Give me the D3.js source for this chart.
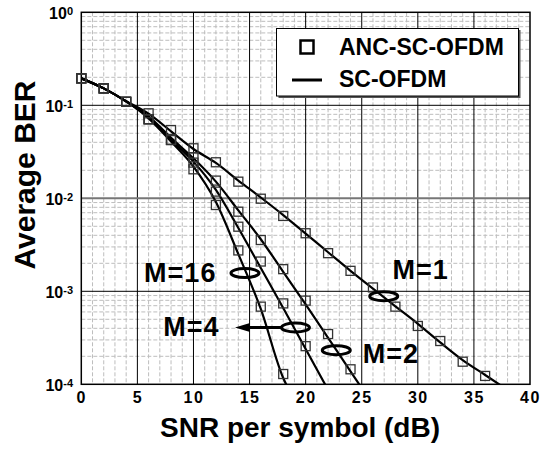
<!DOCTYPE html>
<html>
<head>
<script src="https://d3js.org/d3.v7.min.js"></script>
<style>
  body { margin: 0; background: #fff; }
  text { font-family: "Liberation Sans", Arial, sans-serif; font-weight: bold; fill: #000; }
</style>
</head>
<body>
<svg class="target" width="554" height="450"></svg>
<script>

// SNR points (dB)
snrSim = [0, 2, 4, 6, 8, 10, 12, 14, 16, 18, 20, 22, 24, 26, 28, 30, 32, 34, 36]

// ANC-SC-OFDM (simulation markers), BER per M
simM1  = [0.195, 0.152, 0.109, 0.082, 0.0542, 0.0345, 0.0244, 0.0151, 0.0099, 0.00646, 0.00421, 0.00257, 0.00166, 0.0011, 0.000684, 0.000424, 0.000292, 0.000175, 0.000123]
simM2  = [0.195, 0.152, 0.109, 0.0708, 0.0424, 0.0276, 0.0155, 0.00718, 0.00356, 0.00173, 0.000794, 0.000347, 0.000145]
simM4  = [0.195, 0.152, 0.109, 0.0708, 0.0424, 0.0242, 0.0118, 0.00495, 0.00209, 0.000741, 0.000257]
simM16 = [0.195, 0.152, 0.109, 0.0708, 0.0424, 0.0205, 0.00847, 0.00275, 0.000684, 0.000129]

// SC-OFDM (lines)
snrLine  = [0, 2, 4, 6, 8, 10, 12, 14, 16, 18, 20, 22, 24, 26, 28, 30, 32, 34, 36, 38]
lineM1  = [0.195, 0.152, 0.111, 0.0813, 0.0525, 0.0339, 0.024, 0.0155, 0.0102, 0.0066, 0.00417, 0.00263, 0.00166, 0.00107, 0.00069, 0.000447, 0.000282, 0.000182, 0.000126, 0.000087]
lineM2  = [0.195, 0.152, 0.11, 0.0759, 0.0447, 0.0269, 0.0151, 0.00741, 0.00363, 0.00162, 0.000724, 0.000316, 0.000138, 0.00006]
lineM4  = [0.195, 0.152, 0.11, 0.0741, 0.0427, 0.0248, 0.0123, 0.00479, 0.00178, 0.00066, 0.00024, 0.0000871]
lineM16 = [0.195, 0.152, 0.11, 0.0724, 0.0407, 0.0219, 0.00912, 0.00251, 0.000646, 0.000117, 0.00005]

xTicks = [0, 5, 10, 15, 20, 25, 30, 35, 40]
yTicks = [1, 0.1, 0.01, 0.001, 0.0001]
yExp   = ['0', '-1', '-2', '-3', '-4']

// labels: [text, snr, ber] (text start / baseline), ellipses: [snr, ber]
labels   = [['M=16', 5.6, 0.00126], ['M=4', 7.3, 0.000331], ['M=2', 25.1, 0.000168], ['M=1', 27.75, 0.00135]]
ellipses = [[14.59, 0.00157], [19.09, 0.000408], [22.73, 0.000233], [26.96, 0.000885]]
arrowTip = 13.7

width = 554
height = 450
margin = ({ top: 12.3, right: 24, bottom: 65.7, left: 81.3 })

xScale = d3.scaleLinear([0, 40], [margin.left, width - margin.right])
yScale = d3.scaleLog([1e-4, 1], [height - margin.bottom, margin.top])

const svg = d3.select('.target')

const x0 = xScale(0), x1 = xScale(40), y0 = yScale(1e-4), y1 = yScale(1)

// minor grid
const minorX = d3.range(0, 41).filter(d => d % 5 != 0)
const minorY = []
for (let e = -4; e < 0; e++) for (let m = 2; m <= 9; m++) minorY.push(m * Math.pow(10, e))

const grid = svg.append('g')
grid.selectAll('.mx').data(minorX).join('line')
    .attr('x1', d => xScale(d)).attr('x2', d => xScale(d))
    .attr('y1', y1).attr('y2', y0)
    .attr('stroke', '#bdbdbd').attr('stroke-dasharray', '4,2')
grid.selectAll('.my').data(minorY).join('line')
    .attr('y1', d => yScale(d)).attr('y2', d => yScale(d))
    .attr('x1', x0).attr('x2', x1)
    .attr('stroke', '#bdbdbd').attr('stroke-dasharray', '4,2')

// major grid
grid.selectAll('.Mx').data(xTicks.slice(1, -1)).join('line')
    .attr('x1', d => xScale(d)).attr('x2', d => xScale(d))
    .attr('y1', y1).attr('y2', y0)
    .attr('stroke', '#000')
grid.selectAll('.My').data(yTicks.slice(1, -1)).join('line')
    .attr('y1', d => yScale(d)).attr('y2', d => yScale(d))
    .attr('x1', x0).attr('x2', x1)
    .attr('stroke', d => d == 0.01 ? '#777' : '#000')
    .attr('stroke-width', d => d == 0.01 ? 2 : 1)

// frame
svg.append('rect')
    .attr('x', x0).attr('y', y1).attr('width', x1 - x0).attr('height', y0 - y1)
    .attr('fill', 'none').attr('stroke', '#000').attr('stroke-width', 1.5)

svg.append('clipPath').attr('id', 'plot')
  .append('rect').attr('x', x0).attr('y', y1).attr('width', x1 - x0).attr('height', y0 - y1)

// curves
const line = d3.line()
    .x((d, i) => xScale(snrLine[i]))
    .y(d => yScale(d))
    .curve(d3.curveMonotoneX)

svg.append('g').attr('clip-path', 'url(#plot)')
  .selectAll('path')
  .data([lineM1, lineM2, lineM4, lineM16])
  .join('path')
    .attr('d', line)
    .attr('fill', 'none')
    .attr('stroke', '#000')
    .attr('stroke-width', 2.2)

// markers
const pts = []
;[simM1, simM2, simM4, simM16].forEach(s => s.forEach((v, i) => pts.push([snrSim[i], v])))
svg.append('g')
  .selectAll('rect')
  .data(pts)
  .join('rect')
    .attr('x', d => xScale(d[0]) - 4.5)
    .attr('y', d => yScale(d[1]) - 4.5)
    .attr('width', 9).attr('height', 9)
    .attr('fill', 'none')
    .attr('stroke', '#333')
    .attr('stroke-width', 1.3)

// x axis labels
svg.append('g')
    .attr('transform', `translate(0,${y0})`)
    .call(d3.axisBottom(xScale).tickValues(xTicks).tickSize(0).tickPadding(7))
    .call(g => g.select('.domain').remove())
    .call(g => g.selectAll('text')
        .style('font-family', '"Liberation Sans", Arial, sans-serif')
        .style('font-weight', 'bold').style('font-size', '16px')
        .style('letter-spacing', '1.5px').attr('fill', '#000'))

// y axis labels
const yl = svg.append('g').selectAll('text').data(yTicks).join('text')
    .attr('x', 73)
    .attr('y', d => yScale(d) + 7)
    .attr('text-anchor', 'end')
    .style('font-size', '16px')
yl.append('tspan').text('10')
yl.append('tspan').attr('dy', -4).style('font-size', '11px').text((d, i) => yExp[i])

// axis titles
svg.append('text')
    .attr('x', 300).attr('y', 437)
    .attr('text-anchor', 'middle')
    .style('font-size', '28px')
    .text('SNR per symbol (dB)')

svg.append('text')
    .attr('transform', 'translate(35,175) rotate(-90)')
    .attr('text-anchor', 'middle')
    .style('font-size', '30px')
    .text('Average BER')

// annotations
svg.append('g').selectAll('text').data(labels).join('text')
    .attr('x', d => xScale(d[1]))
    .attr('y', d => yScale(d[2]))
    .style('font-size', '27px')
    .style('letter-spacing', '1px')
    .text(d => d[0])

svg.append('g').selectAll('ellipse').data(ellipses).join('ellipse')
    .attr('cx', d => xScale(d[0]))
    .attr('cy', d => yScale(d[1]))
    .attr('rx', 14).attr('ry', 4.5)
    .attr('fill', 'none')
    .attr('stroke', '#000')
    .attr('stroke-width', 3)

// arrow from M=4 ellipse
const ay = yScale(ellipses[1][1]), ax = xScale(arrowTip)
svg.append('line')
    .attr('x1', xScale(ellipses[1][0]) - 14).attr('x2', ax + 10)
    .attr('y1', ay).attr('y2', ay)
    .attr('stroke', '#000').attr('stroke-width', 3)
svg.append('path')
    .attr('d', `M${ax},${ay} L${ax + 15},${ay - 4.5} L${ax + 15},${ay + 4.5} Z`)
    .attr('fill', '#000')

// legend
const lg = svg.append('g')
lg.append('rect').attr('x', 278.5).attr('y', 30).attr('width', 242).attr('height', 68).attr('fill', '#555')
lg.append('rect').attr('x', 276.5).attr('y', 28.5).attr('width', 242).attr('height', 67.5)
    .attr('fill', '#fff').attr('stroke', '#000').attr('stroke-width', 1)
lg.append('rect').attr('x', 300.5).attr('y', 40.5).attr('width', 13).attr('height', 13)
    .attr('fill', 'none').attr('stroke', '#000').attr('stroke-width', 2.5)
lg.append('line').attr('x1', 292).attr('x2', 322).attr('y1', 80).attr('y2', 80)
    .attr('stroke', '#000').attr('stroke-width', 3)
lg.append('text').attr('x', 339).attr('y', 54.5).style('font-size', '23px').text('ANC-SC-OFDM')
lg.append('text').attr('x', 339).attr('y', 87).style('font-size', '23px').text('SC-OFDM')

</script>
</body>
</html>
